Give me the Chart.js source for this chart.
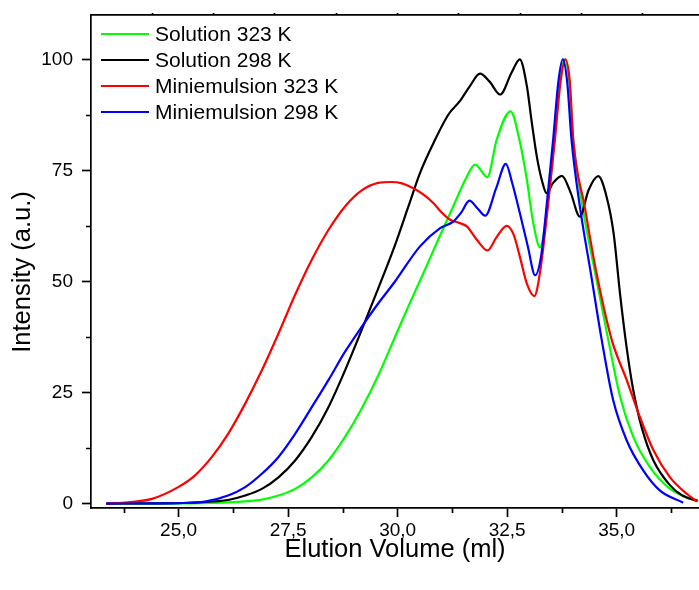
<!DOCTYPE html>
<html>
<head>
<meta charset="utf-8">
<title>GPC traces</title>
<script src="https://cdn.jsdelivr.net/npm/chart.js@4.4.1/dist/chart.umd.min.js"></script>
<style>
  html, body { margin: 0; padding: 0; background: #fff; }
  canvas { display: block; }
</style>
</head>
<body>
<canvas id="gpc" width="699" height="590"></canvas>
<script>
// Elution volume (ml) and normalised intensity (a.u.) for each sample
const SOL323_VOL = [23.35, 25.0, 26.0, 26.52, 26.9, 27.28, 27.66, 28.04, 28.42, 28.8, 29.18, 29.56, 29.94, 30.25, 30.59, 30.93, 31.27, 31.55, 31.77, 32.05, 32.26, 32.58, 32.78, 32.95, 33.1, 33.25, 33.42, 33.58, 33.7, 33.81, 33.92, 34.01, 34.22, 34.51, 34.81, 35.08, 35.38, 35.76, 36.22, 36.83];
const SOL323_INT = [0, 0.02, 0.2, 0.5, 0.9, 1.8, 3.3, 5.9, 9.7, 15.0, 21.4, 28.9, 37.5, 44.5, 51.9, 59.5, 66.9, 73.0, 76.3, 73.5, 81.9, 88.3, 81.9, 72.9, 63.0, 57.7, 66.9, 81.9, 95.0, 100, 95.0, 81.9, 66.9, 51.9, 36.8, 24.0, 15.0, 8.2, 3.3, 0.5];

const SOL298_VOL = [23.35, 24.5, 25.5, 26.13, 26.52, 26.9, 27.28, 27.66, 28.04, 28.42, 28.8, 29.18, 29.56, 29.94, 30.25, 30.51, 30.82, 31.16, 31.42, 31.65, 31.88, 32.1, 32.34, 32.6, 32.79, 32.95, 33.06, 33.18, 33.3, 33.4, 33.55, 33.75, 33.95, 34.16, 34.36, 34.58, 34.77, 34.93, 35.08, 35.23, 35.38, 35.57, 35.84, 36.22, 36.5, 36.85];
const SOL298_INT = [0, 0.05, 0.3, 0.8, 1.8, 3.3, 5.9, 9.7, 15.0, 21.7, 30.0, 39.1, 48.5, 58.2, 67.0, 74.4, 81.2, 87.6, 90.6, 94.0, 96.8, 95.0, 92.1, 97.0, 100, 94.0, 86.0, 78.0, 72.5, 69.9, 72.2, 73.8, 70.0, 64.6, 70.6, 73.7, 69.1, 60.9, 47.0, 35.0, 25.5, 17.2, 9.7, 4.1, 1.8, 0.6];

const MINI323_VOL = [23.35, 23.85, 24.39, 24.99, 25.37, 25.76, 26.13, 26.52, 26.9, 27.28, 27.66, 28.04, 28.42, 28.8, 29.18, 29.56, 29.85, 30.1, 30.36, 30.6, 30.82, 31.0, 31.2, 31.4, 31.58, 31.8, 32.05, 32.26, 32.49, 32.65, 32.79, 32.95, 33.12, 33.25, 33.43, 33.59, 33.72, 33.83, 33.93, 34.01, 34.27, 34.54, 34.89, 35.23, 35.53, 35.84, 36.22, 36.6, 36.83];
const MINI323_INT = [0, 0.3, 1.05, 3.7, 6.3, 10.5, 15.7, 22.5, 30.0, 38.3, 47.0, 54.9, 61.6, 66.9, 70.5, 72.2, 72.4, 72.1, 71.0, 69.5, 67.6, 65.6, 63.9, 63.2, 62.4, 59.5, 57.0, 60.0, 62.5, 60.5, 55.6, 49.5, 46.7, 52.0, 66.9, 81.9, 95.0, 100, 95.0, 81.9, 66.9, 51.9, 36.8, 27.8, 19.5, 12.0, 5.9, 2.2, 0.5];

const MINI298_VOL = [23.35, 24.5, 25.0, 25.6, 26.13, 26.52, 26.9, 27.28, 27.66, 28.04, 28.42, 28.8, 29.18, 29.56, 29.94, 30.51, 30.97, 31.27, 31.45, 31.64, 31.82, 32.0, 32.25, 32.47, 32.62, 32.79, 32.97, 33.14, 33.28, 33.4, 33.55, 33.67, 33.77, 33.87, 33.97, 34.16, 34.41, 34.66, 34.92, 35.23, 35.61, 35.99, 36.52];
const MINI298_INT = [0, 0.05, 0.1, 0.45, 1.8, 3.7, 6.7, 10.5, 15.7, 21.7, 27.8, 34.2, 39.8, 45.1, 50.0, 57.9, 62.0, 63.5, 65.5, 68.2, 66.5, 64.8, 71.0, 76.5, 72.0, 65.4, 58.0, 51.4, 56.0, 66.9, 81.9, 95.0, 100, 95.0, 81.9, 66.9, 51.9, 36.8, 23.3, 14.2, 7.4, 2.9, 0.2];

// Axis ticks
const X_TICKS = [25, 27.5, 30, 32.5, 35];
const X_MINOR = [23.75, 26.25, 28.75, 31.25, 33.75, 36.25];
const Y_TICKS = [0, 25, 50, 75, 100];
const Y_MINOR = [12.5, 37.5, 62.5, 87.5];
const TOP_TICKS = [1, 2, 3, 4, 5, 6, 7, 8, 9];

const Y_TITLE = 'Intensity (a.u.)';
const FONT = '"Liberation Sans", Arial, Helvetica, sans-serif';
const AXIS_W = 1.7;

function toPoints(vol, intensity) {
  return vol.map((v, i) => ({ x: v, y: intensity[i] }));
}

function trace(label, color, vol, intensity, order) {
  return {
    label,
    data: toPoints(vol, intensity),
    borderColor: color,
    backgroundColor: color,
    borderWidth: 2.2,
    pointRadius: 0,
    fill: false,
    cubicInterpolationMode: 'monotone',
    order
  };
}

// Short minor tick marks on the left and bottom axes, plus the rotated y title
const axisExtras = {
  id: 'axisExtras',
  afterDraw(chart) {
    const { ctx, chartArea, scales } = chart;
    ctx.save();
    ctx.strokeStyle = '#000';
    ctx.lineWidth = AXIS_W;
    ctx.beginPath();
    X_MINOR.forEach(v => {
      const px = Math.round(scales.x.getPixelForValue(v)) + 0.5;
      ctx.moveTo(px, chartArea.bottom);
      ctx.lineTo(px, chartArea.bottom + 5);
    });
    Y_MINOR.forEach(v => {
      const py = Math.round(scales.y.getPixelForValue(v)) + 0.5;
      ctx.moveTo(chartArea.left, py);
      ctx.lineTo(chartArea.left - 5, py);
    });
    ctx.stroke();

    ctx.translate(22.5, chartArea.top + 257);
    ctx.rotate(-Math.PI / 2);
    ctx.font = '25.5px ' + FONT;
    ctx.fillStyle = '#000';
    ctx.textAlign = 'center';
    ctx.textBaseline = 'middle';
    ctx.fillText(Y_TITLE, 0, 0);
    ctx.restore();
  }
};

// Legend drawn inside the plot frame, top-left
const insetLegend = {
  id: 'insetLegend',
  afterDatasetsDraw(chart) {
    const { ctx, chartArea } = chart;
    ctx.save();
    ctx.font = '21px ' + FONT;
    ctx.textBaseline = 'middle';
    ctx.textAlign = 'left';
    chart.data.datasets.forEach((ds, i) => {
      const y = chartArea.top + 19 + i * 26;
      const x0 = chartArea.left + 10;
      ctx.strokeStyle = ds.borderColor;
      ctx.lineWidth = 2.2;
      ctx.beginPath();
      ctx.moveTo(x0, y);
      ctx.lineTo(x0 + 48, y);
      ctx.stroke();
      ctx.fillStyle = '#000';
      ctx.fillText(ds.label, x0 + 54, y + 1);
    });
    ctx.restore();
  }
};

new Chart(document.getElementById('gpc'), {
  type: 'line',
  data: {
    datasets: [
      trace('Solution 323 K', '#00ff00', SOL323_VOL, SOL323_INT, 3),
      trace('Solution 298 K', '#000000', SOL298_VOL, SOL298_INT, 2),
      trace('Miniemulsion 323 K', '#ff0000', MINI323_VOL, MINI323_INT, 1),
      trace('Miniemulsion 298 K', '#0000ff', MINI298_VOL, MINI298_INT, 0)
    ]
  },
  options: {
    responsive: false,
    animation: false,
    events: [],
    layout: { padding: 0 },
    plugins: {
      legend: { display: false },
      tooltip: { enabled: false }
    },
    scales: {
      x: {
        type: 'linear',
        position: 'bottom',
        min: 23,
        max: 36.88,
        afterFit(s) { s.height = 82; s.paddingLeft = 0; s.paddingRight = 0; },
        afterBuildTicks(s) { s.ticks = X_TICKS.map(v => ({ value: v })); },
        ticks: {
          color: '#000',
          font: { family: FONT, size: 19 },
          padding: 2,
          maxRotation: 0,
          autoSkip: false,
          callback: v => v.toFixed(1).replace('.', ',')
        },
        grid: { display: true, drawOnChartArea: false, drawTicks: true, tickLength: 9, tickColor: '#000', tickWidth: AXIS_W },
        border: { display: true, color: '#000', width: AXIS_W },
        title: {
          display: true,
          text: 'Elution Volume (ml)',
          color: '#000',
          font: { family: FONT, size: 25.5 },
          padding: { top: 0, bottom: 25 }
        }
      },
      xTop: {
        type: 'linear',
        position: 'top',
        min: 0,
        max: 9.92,
        afterFit(s) { s.height = 15; s.paddingLeft = 0; s.paddingRight = 0; },
        afterBuildTicks(s) { s.ticks = TOP_TICKS.map(v => ({ value: v })); },
        ticks: { display: false },
        grid: { display: true, drawOnChartArea: false, drawTicks: true, tickLength: 2, tickColor: '#000', tickWidth: AXIS_W },
        border: { display: true, color: '#000', width: AXIS_W }
      },
      y: {
        type: 'linear',
        position: 'left',
        min: -1,
        max: 110,
        afterFit(s) { s.width = 91; s.paddingTop = 0; s.paddingBottom = 0; },
        afterBuildTicks(s) { s.ticks = Y_TICKS.map(v => ({ value: v })); },
        ticks: {
          color: '#000',
          font: { family: FONT, size: 19 },
          padding: 9,
          autoSkip: false
        },
        grid: { display: true, drawOnChartArea: false, drawTicks: true, tickLength: 9, tickColor: '#000', tickWidth: AXIS_W },
        border: { display: true, color: '#000', width: AXIS_W }
      }
    }
  },
  plugins: [axisExtras, insetLegend]
});
</script>
</body>
</html>
